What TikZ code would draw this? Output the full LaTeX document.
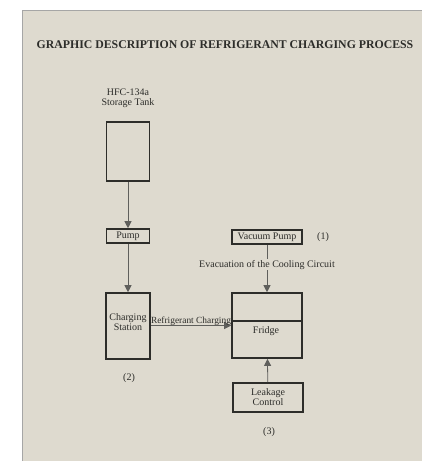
\documentclass[tikz,border=0pt]{standalone}
\usepackage{fontspec}
\setmainfont{Liberation Serif}
\usetikzlibrary{arrows.meta,calc}
\definecolor{paper}{RGB}{222,218,207}
\definecolor{ink}{RGB}{45,45,42}
\definecolor{wire}{RGB}{95,95,92}
\begin{document}
\begin{tikzpicture}[x=1pt, y=-1pt, ->, >={Triangle[length=7pt,width=7pt]},
    box/.style={draw=ink, line width=1.6pt, inner sep=0pt, align=center, text=ink, font=\fontsize{10}{11}\selectfont},
    lbl/.style={inner sep=1pt, align=center, text=ink, font=\fontsize{10}{11}\selectfont},
    flow/.style={draw=wire, line width=0.8pt}]
    % Page
    \useasboundingbox (0,0) rectangle (427,461);
    \fill[paper] (22,10) rectangle (422,461);
    \draw[-, gray!70, line width=1pt] (22,461) -- (22,10) -- (422,10);

    % Title
    \node[lbl, font=\fontsize{11.8}{13}\selectfont\bfseries] (title) at (225,45) {GRAPHIC DESCRIPTION OF REFRIGERANT CHARGING PROCESS};

    % Left column
    \node[lbl] (tanklbl) at (128,98) {HFC-134a\\[-1pt]Storage Tank};
    \node[box, minimum width=43pt, minimum height=59pt] (tank) at (128,151.5) {};
    \node[box, minimum width=43pt, minimum height=14pt] (pump) at (128,236) {Pump};
    \node[box, minimum width=44pt, minimum height=66pt] (station) at (128,326) {};
    \node[lbl] (stationlbl) at (128,322) {Charging\\[-1pt]Station};
    \node[lbl] (n2) at (129,378) {(2)};

    % Right column
    \node[box, minimum width=70pt, minimum height=14pt] (vacuum) at (267,237) {Vacuum Pump};
    \node[lbl] (n1) at (323,237) {(1)};
    \node[box, minimum width=70pt, minimum height=65pt] (fridge) at (267,325.5) {};
    \node[lbl] (fridgelbl) at (266,331) {Fridge};
    \node[box, minimum width=70pt, minimum height=29pt] (leak) at (268,397.5) {Leakage\\[-1pt]Control};
    \node[lbl] (n3) at (269,432) {(3)};

    \draw[-, draw=ink, line width=1.6pt] ($(fridge.north west)!0.43!(fridge.south west)$) -- ($(fridge.north east)!0.43!(fridge.south east)$);

    \draw[flow] (tank) -- (pump);
    \draw[flow] (pump) -- (station);
    \draw[flow] (station.east |- fridge.west) -- node[lbl, above, yshift=-1pt, font=\fontsize{9.4}{10}\selectfont] {Refrigerant Charging} (fridge.west);
    \draw[flow] (vacuum) -- node[lbl, pos=0.42, fill=paper] {Evacuation of the Cooling Circuit} (fridge);
    \draw[flow] (leak) -- (fridge);
\end{tikzpicture}
\end{document}
